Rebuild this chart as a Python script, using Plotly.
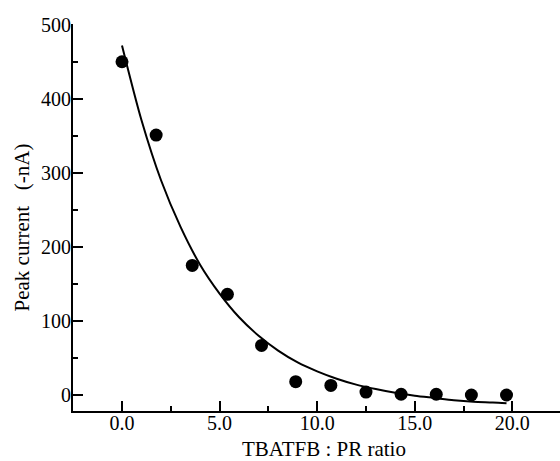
import plotly.graph_objects as go

# Measured peak current vs. TBATFB : PR ratio
ratio = [0.0, 1.75, 3.6, 5.4, 7.15, 8.9, 10.7, 12.5, 14.3, 16.1, 17.9, 19.7]
peak_current = [450, 351, 175, 136, 67, 18, 13, 4, 1, 1, 0, 0]

# Fitted decay curve (sampled points)
fit_x = [0, 1, 2, 3, 4, 5, 6, 7, 8, 9, 10, 11, 12, 13, 14, 15, 16, 17, 18, 19, 19.7]
fit_y = [472, 371, 290, 227, 176, 137, 105, 80, 60, 44, 32, 22, 14, 8, 3, -1, -4, -7, -9, -10, -11]

x_ticks = [0, 5, 10, 15, 20]
x_tick_labels = ["0.0", "5.0", "10.0", "15.0", "20.0"]
y_ticks = [0, 100, 200, 300, 400, 500]
y_tick_labels = ["0", "100", "200", "300", "400", "500"]

FONT = "Liberation Serif, Times New Roman, serif"

fig = go.Figure()
fig.add_trace(go.Scatter(
    x=fit_x, y=fit_y, mode="lines",
    line=dict(color="black", width=2, shape="spline", smoothing=0.8),
    hoverinfo="skip", showlegend=False,
))
fig.add_trace(go.Scatter(
    x=ratio, y=peak_current, mode="markers",
    marker=dict(color="black", size=13, line=dict(width=0)),
    showlegend=False,
))

fig.update_layout(
    width=560, height=461,
    margin=dict(l=73, r=0, t=24, b=50),
    paper_bgcolor="white", plot_bgcolor="white",
    font=dict(family=FONT, size=20, color="black"),
    showlegend=False,
    annotations=[
        dict(text="TBATFB : PR ratio", xref="paper", yref="paper",
             x=(324 - 73) / 487, y=-(449 - 411) / 387,
             xanchor="center", yanchor="middle", showarrow=False,
             font=dict(family=FONT, size=21, color="black")),
        dict(text="Peak current\u00a0\u00a0 (-nA)", xref="paper", yref="paper",
             x=-(73 - 21) / 487, y=(411 - 227.5) / 387, textangle=-90,
             xanchor="center", yanchor="middle", showarrow=False,
             font=dict(family=FONT, size=21, color="black")),
    ],
)

fig.update_xaxes(
    range=[-2.51, 22.44],
    tickmode="array", tickvals=x_ticks, ticktext=x_tick_labels,
    ticks="inside", ticklen=10, tickwidth=1.8, tickcolor="black",
    ticklabelstandoff=-7,
    minor=dict(dtick=2.5, tick0=0, ticks="inside", ticklen=5, tickwidth=1.8, tickcolor="black"),
    showline=True, linecolor="black", linewidth=2,
    showgrid=False, zeroline=False,
    tickfont=dict(family=FONT, size=20, color="black"),
)
fig.update_yaxes(
    range=[-21.6, 501],
    tickmode="array", tickvals=y_ticks, ticktext=y_tick_labels,
    ticks="inside", ticklen=10, tickwidth=1.8, tickcolor="black",
    ticklabelstandoff=-4,
    minor=dict(dtick=50, tick0=0, ticks="inside", ticklen=5, tickwidth=1.8, tickcolor="black"),
    showline=True, linecolor="black", linewidth=2,
    showgrid=False, zeroline=False,
    tickfont=dict(family=FONT, size=20, color="black"),
)

fig.write_html("out.html")
